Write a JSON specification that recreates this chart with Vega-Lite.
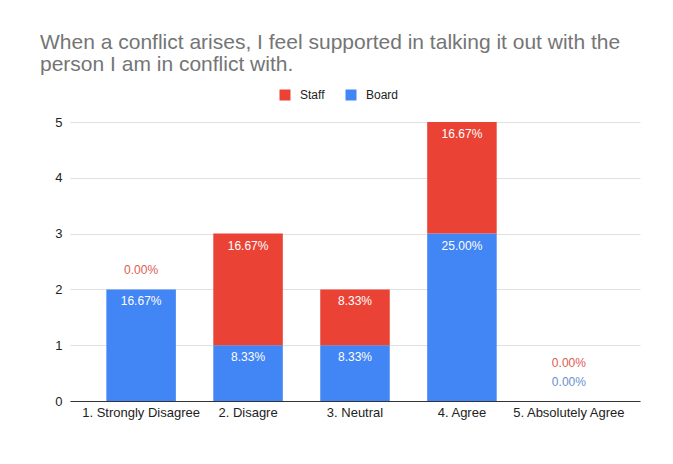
{
  "$schema": "https://vega.github.io/schema/vega-lite/v6.json",
  "width": 570,
  "height": 279,
  "autosize": "none",
  "padding": {"left": 70, "top": 122, "right": 33, "bottom": 63},
  "background": "white",
  "title": {
    "text": ["When a conflict arises, I feel supported in talking it out with the", "person I am in conflict with."],
    "anchor": "start",
    "frame": "group",
    "dx": -30,
    "offset": 14,
    "fontSize": 21,
    "font": "Liberation Sans",
    "fontWeight": "normal",
    "color": "#757575",
    "lineHeight": 22
  },
  "config": {
    "view": {"stroke": null},
    "font": "Liberation Sans",
    "axis": {"labelFont": "Liberation Sans", "labelFontSize": 13, "labelColor": "#222222", "title": null, "ticks": false}
  },
  "data": {
    "values": [
      {"category": "1. Strongly Disagree", "series": "Board", "value": 2, "label": "16.67%"},
      {"category": "1. Strongly Disagree", "series": "Staff", "value": 0, "label": "0.00%"},
      {"category": "2. Disagre", "series": "Board", "value": 1, "label": "8.33%"},
      {"category": "2. Disagre", "series": "Staff", "value": 2, "label": "16.67%"},
      {"category": "3. Neutral", "series": "Board", "value": 1, "label": "8.33%"},
      {"category": "3. Neutral", "series": "Staff", "value": 1, "label": "8.33%"},
      {"category": "4. Agree", "series": "Board", "value": 3, "label": "25.00%"},
      {"category": "4. Agree", "series": "Staff", "value": 2, "label": "16.67%"},
      {"category": "5. Absolutely Agree", "series": "Board", "value": 0, "label": "0.00%"},
      {"category": "5. Absolutely Agree", "series": "Staff", "value": 0, "label": "0.00%"}
    ]
  },
  "transform": [
    {"stack": "value", "groupby": ["category"], "sort": [{"field": "series", "order": "ascending"}], "as": ["v0", "v1"]}
  ],
  "encoding": {
    "x": {
      "field": "category",
      "type": "nominal",
      "scale": {"paddingInner": 0.35, "paddingOuter": 0.34},
      "axis": {"labelAngle": 0, "domainColor": "#333333", "labelPadding": 5, "grid": false}
    }
  },
  "layer": [
    {
      "mark": {"type": "bar"},
      "encoding": {
        "y": {
          "field": "v0",
          "type": "quantitative",
          "scale": {"domain": [0, 5]},
          "axis": {"values": [0, 1, 2, 3, 4, 5], "domain": false, "gridColor": "#e0e0e0", "labelPadding": 8}
        },
        "y2": {"field": "v1"},
        "color": {
          "field": "series",
          "type": "nominal",
          "scale": {"domain": ["Staff", "Board"], "range": ["#EA4335", "#4285F4"]},
          "legend": {
            "title": null,
            "orient": "none",
            "legendX": 209,
            "legendY": -33,
            "direction": "horizontal",
            "symbolType": "square",
            "symbolSize": 121,
            "symbolStrokeWidth": 0,
            "labelFontSize": 12,
            "labelColor": "#222222",
            "labelOffset": 9,
            "columnPadding": 20
          }
        }
      }
    },
    {
      "transform": [{"filter": "datum.value > 0"}],
      "mark": {"type": "text", "dy": 12, "baseline": "middle", "fontSize": 12, "color": "white"},
      "encoding": {
        "y": {"field": "v1", "type": "quantitative"},
        "text": {"field": "label"}
      }
    },
    {
      "transform": [
        {"filter": "datum.value == 0"},
        {"window": [{"op": "row_number", "as": "rk"}], "groupby": ["category"], "sort": [{"field": "series", "order": "ascending"}]},
        {"filter": "datum.rk == 1"}
      ],
      "mark": {"type": "text", "dy": -19, "baseline": "middle", "fontSize": 12},
      "encoding": {
        "y": {"field": "v1", "type": "quantitative"},
        "text": {"field": "label"},
        "color": {"condition": {"test": "datum.series === 'Staff'", "value": "#dd5c4f"}, "value": "#6a8fce"}
      }
    },
    {
      "transform": [
        {"filter": "datum.value == 0"},
        {"window": [{"op": "row_number", "as": "rk"}], "groupby": ["category"], "sort": [{"field": "series", "order": "ascending"}]},
        {"filter": "datum.rk == 2"}
      ],
      "mark": {"type": "text", "dy": -38, "baseline": "middle", "fontSize": 12},
      "encoding": {
        "y": {"field": "v1", "type": "quantitative"},
        "text": {"field": "label"},
        "color": {"condition": {"test": "datum.series === 'Staff'", "value": "#dd5c4f"}, "value": "#6a8fce"}
      }
    }
  ]
}
